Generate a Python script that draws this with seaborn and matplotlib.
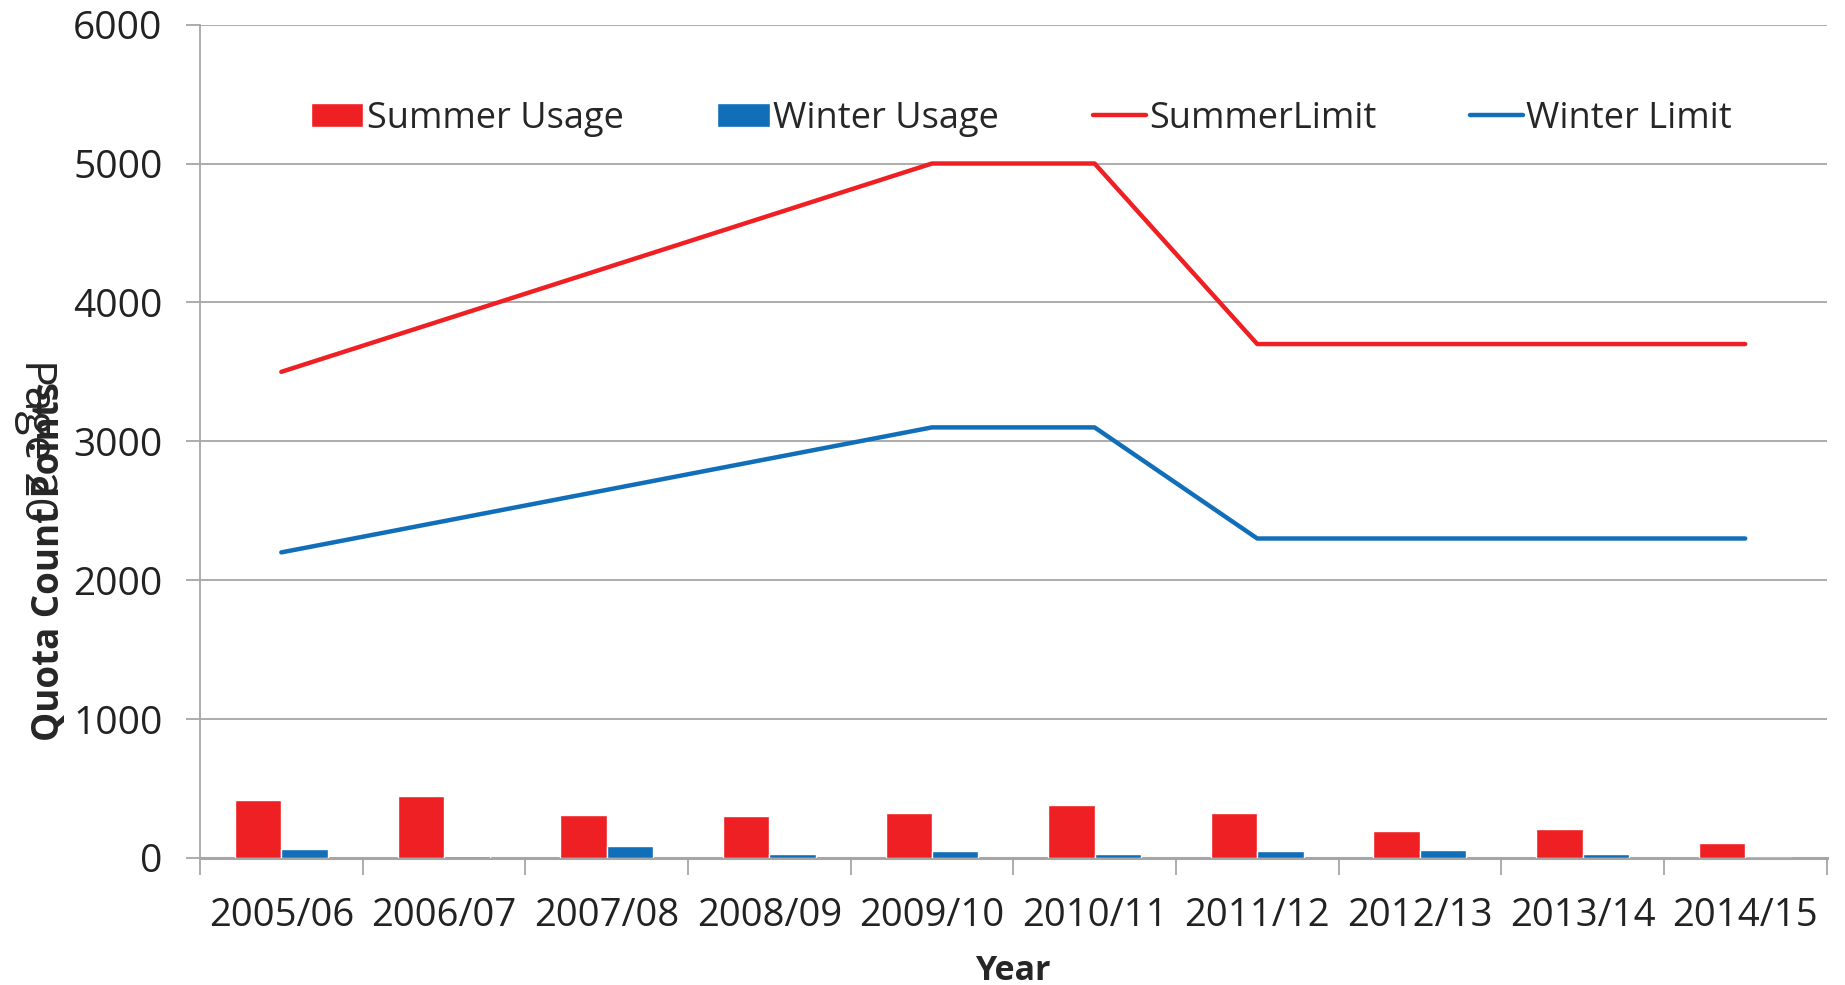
import numpy as np
import pandas as pd
import matplotlib
matplotlib.use("Agg")
import matplotlib.pyplot as plt
import seaborn as sns
from matplotlib.ticker import FixedLocator

# data
years = ["2005/06", "2006/07", "2007/08", "2008/09", "2009/10",
         "2010/11", "2011/12", "2012/13", "2013/14", "2014/15"]
summer_usage = [415, 444, 312, 302, 326, 384, 324, 192, 211, 110]
winter_usage = [65, 17, 89, 31, 53, 29, 53, 58, 31, 0]
summer_limit = [3500, 3875, 4250, 4625, 5000, 5000, 3700, 3700, 3700, 3700]
winter_limit = [2200, 2425, 2650, 2875, 3100, 3100, 2300, 2300, 2300, 2300]

RED = "#EF2024"
BLUE = "#116EB9"
GRID = "#A6A6A6"

sns.set_style("white")
plt.rcParams['font.family'] = ['Open Sans', 'DejaVu Sans']

df = pd.DataFrame({
    "Year": years * 2,
    "Count": summer_usage + winter_usage,
    "Series": ["Summer Usage"] * len(years) + ["Winter Usage"] * len(years),
})

fig = plt.figure(figsize=(18.45, 9.85), dpi=100)
ax = fig.add_axes([0.1084, 0.129, 0.8816, 0.846])

sns.barplot(data=df, x="Year", y="Count", hue="Series", order=years,
            palette={"Summer Usage": RED, "Winter Usage": BLUE},
            width=0.571, gap=0, saturation=1, ax=ax, zorder=3)

xpos = np.arange(len(years))
sns.lineplot(x=xpos, y=summer_limit, color=RED, linewidth=3.2, ax=ax,
             label="SummerLimit", zorder=4)
sns.lineplot(x=xpos, y=winter_limit, color=BLUE, linewidth=3.2, ax=ax,
             label="Winter Limit", zorder=4)

ax.set_xlim(-0.5, len(years) - 0.5)
ax.set_ylim(0, 6000)
ax.set_yticks(range(0, 6001, 1000))
ax.yaxis.grid(True, color=GRID, linewidth=1.3, zorder=0)
ax.set_axisbelow(True)

for s in ["top", "right"]:
    ax.spines[s].set_visible(False)
ax.spines["left"].set_color(GRID)
ax.spines["left"].set_linewidth(1.3)
ax.spines["bottom"].set_color(GRID)
ax.spines["bottom"].set_linewidth(2.2)

ax.set_xticks(xpos)
ax.set_xticklabels(years)
ax.xaxis.set_minor_locator(FixedLocator(np.arange(-0.5, len(years), 1.0)))
ax.tick_params(axis="x", which="major", length=0, pad=28, labelsize=27.5,
               colors="#222222")
ax.tick_params(axis="x", which="minor", length=12, width=1.3, color=GRID,
               direction="out", bottom=True)
ax.tick_params(axis="y", length=10, width=1.3, color=GRID, left=True,
               direction="out", pad=17, labelsize=28, labelcolor="#222222")

ax.set_xlabel("Year", fontsize=24.5, fontweight="bold", labelpad=14)
ax.set_ylabel("")
fig.text(0.0265, 0.43, "Quota Count Points", rotation=90, fontsize=26.5,
         fontweight="bold", ha="center", va="center")
fig.text(0.0195, 0.553, "Page 20", rotation=270, fontsize=32,
         ha="center", va="center")

ax.legend(loc="center", bbox_to_anchor=(0.505, 0.887), ncol=4, frameon=False,
          fontsize=26, handlelength=1.45, handleheight=0.67,
          handletextpad=0.1, columnspacing=2.6)

fig.savefig("out.png", dpi=100)
